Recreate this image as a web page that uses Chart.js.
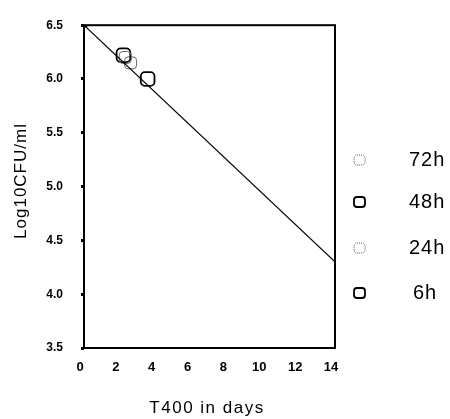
<!DOCTYPE html>
<html>
<head>
<meta charset="utf-8">
<script src="https://cdn.jsdelivr.net/npm/chart.js@4/dist/chart.umd.min.js"></script>
<style>
  html, body { margin: 0; padding: 0; background: #fff; }
  #wrap { width: 450px; height: 419px; }
</style>
</head>
<body>
<div id="wrap"><canvas id="graphique" width="450" height="419"></canvas></div>
<script>
// survival curve: regression line + measured points
const lineDays = [0, 14]
const lineLog = [6.5, 4.3]

const seriesLabels = ["72h", "48h", "24h", "6h"]
const seriesDays = [2.3, 2.2, 2.6, 3.55]
const seriesLog = [6.2, 6.22, 6.15, 6.0]
const seriesDotted = [true, false, true, false]

const xTicks = [0, 2, 4, 6, 8, 10, 12, 14]
const yTicks = [3.5, 4.0, 4.5, 5.0, 5.5, 6.0, 6.5]

const xTitle = "T400 in days"
const yTitle = "Log10CFU/ml"

const police = '"Liberation Sans", Arial, sans-serif'

const datasets = [{
    type: 'line',
    label: 'fit',
    data: lineDays.map((d, i) => ({x: d, y: lineLog[i]})),
    borderColor: '#000',
    borderWidth: 1.2,
    pointRadius: [3, 0],
    pointStyle: 'triangle',
    pointBorderColor: '#000',
    pointBackgroundColor: '#fff',
    fill: false
}]
seriesLabels.forEach((lab, i) => {
    datasets.push({
        type: 'scatter',
        label: lab,
        data: [{x: seriesDays[i], y: seriesLog[i]}],
        pointStyle: 'rectRounded',
        pointRadius: seriesDotted[i] ? 7 : 8,
        borderWidth: seriesDotted[i] ? 1 : 1.8,
        borderColor: seriesDotted[i] ? '#666' : '#000',
        backgroundColor: 'rgba(255,255,255,0)'
    })
})

// box round the plot, axis titles and the legend on the right
const cadre = {
    id: 'cadre',
    afterDraw(chart) {
        const ctx = chart.ctx
        const a = chart.chartArea
        ctx.save()
        ctx.strokeStyle = '#000'
        ctx.lineWidth = 2
        ctx.strokeRect(a.left, a.top, a.right - a.left, a.bottom - a.top)

        ctx.fillStyle = '#000'
        ctx.textAlign = 'center'
        ctx.textBaseline = 'middle'
        ctx.font = '17px ' + police
        ctx.letterSpacing = '1.5px'
        ctx.fillText(xTitle, 207, 408)

        ctx.letterSpacing = '1px'
        ctx.save()
        ctx.translate(21, 181)
        ctx.rotate(-Math.PI / 2)
        ctx.fillText(yTitle, 0, 0)
        ctx.restore()

        const rows = [160, 202, 248, 293]
        ctx.font = '20px ' + police
        ctx.textAlign = 'left'
        seriesLabels.forEach((lab, i) => {
            const y = rows[i]
            ctx.beginPath()
            ctx.lineWidth = seriesDotted[i] ? 1 : 1.8
            ctx.strokeStyle = seriesDotted[i] ? '#555' : '#000'
            ctx.setLineDash(seriesDotted[i] ? [1, 1] : [])
            ctx.roundRect(354, y - 5, 11, 10, 3)
            ctx.stroke()
            ctx.setLineDash([])
            ctx.fillText(lab, lab.length < 3 ? 413 : 409, y)
        })
        ctx.restore()
    }
}

new Chart(document.getElementById('graphique'), {
    data: {datasets: datasets},
    options: {
        responsive: false,
        animation: false,
        layout: {autoPadding: false, padding: {top: 15, right: 115, left: 0, bottom: 0}},
        plugins: {legend: {display: false}, tooltip: {enabled: false}},
        scales: {
            x: {
                type: 'linear',
                min: 0,
                max: 14,
                afterBuildTicks: s => { s.ticks = xTicks.map(v => ({value: v})) },
                afterFit: s => { s.height = 71 },
                border: {display: false},
                grid: {display: false, drawTicks: false},
                ticks: {
                    padding: 12,
                    labelOffset: -4,
                    color: '#000',
                    font: {family: police, size: 13, weight: 'bold'}
                }
            },
            y: {
                min: 3.5,
                max: 6.5,
                afterBuildTicks: s => { s.ticks = yTicks.map(v => ({value: v})) },
                afterFit: s => { s.width = 84 },
                border: {display: false},
                grid: {display: true, drawOnChartArea: false, color: '#000', lineWidth: 3, tickLength: 3},
                ticks: {
                    padding: 18,
                    color: '#000',
                    callback: v => v.toFixed(1),
                    font: {family: police, size: 12, weight: 'bold'}
                }
            }
        }
    },
    plugins: [cadre]
})
</script>
</body>
</html>
